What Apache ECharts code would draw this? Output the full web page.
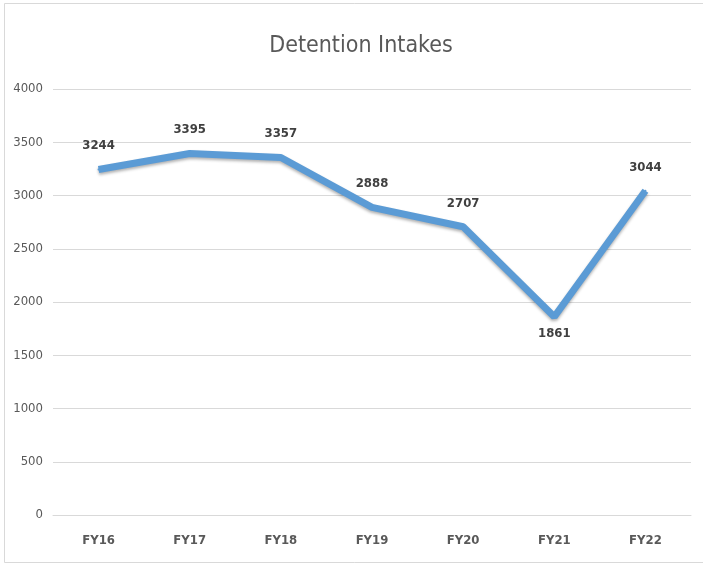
<!DOCTYPE html>
<html>
<head>
<meta charset="utf-8">
<script src="https://cdn.jsdelivr.net/npm/echarts@6/dist/echarts.min.js"></script>
<style>
html,body{margin:0;padding:0;background:#fff;}
#c{width:703px;height:564px;}
</style>
</head>
<body>
<div id="c"></div>
<script>
const categories = ['FY16','FY17','FY18','FY19','FY20','FY21','FY22'];
const intakes = [3244, 3395, 3357, 2888, 2707, 1861, 3044];
const yTicks = {min: 0, max: 4000, interval: 500};
const belowLabelIndex = 5;

const FONT = '"Liberation Sans Narrow", "DejaVu Sans Condensed", "Arial Narrow", sans-serif';

const chart = echarts.init(document.getElementById('c'), null, {renderer: 'canvas'});
const data = intakes.map((v, i) => i === belowLabelIndex
  ? {value: v, label: {position: 'bottom', distance: 9}}
  : {value: v});

chart.setOption({
  animation: false,
  backgroundColor: '#fff',
  title: {
    text: 'Detention Intakes',
    left: 356,
    top: 30,
    textAlign: 'center',
    textStyle: {fontFamily: FONT, fontSize: 23, fontWeight: 'normal', color: '#595959'}
  },
  graphic: [{
    type: 'rect',
    shape: {x: 4.5, y: 3.5, width: 720, height: 559},
    style: {fill: 'none', stroke: '#d9d9d9', lineWidth: 1},
    silent: true
  }],
  grid: {left: 53, right: 12, top: 89, bottom: 49},
  xAxis: {
    type: 'category',
    data: categories,
    boundaryGap: true,
    axisLine: {show: true, lineStyle: {color: '#d9d9d9', width: 1}},
    axisTick: {show: false},
    axisLabel: {margin: 19, fontFamily: FONT, fontSize: 13, fontWeight: 'bold', color: '#595959'}
  },
  yAxis: {
    type: 'value',
    min: yTicks.min,
    max: yTicks.max,
    interval: yTicks.interval,
    axisLine: {show: false},
    axisTick: {show: false},
    axisLabel: {margin: 10, fontFamily: FONT, fontSize: 13, color: '#595959', formatter: v => String(v)},
    splitLine: {lineStyle: {color: '#d9d9d9', width: 1}}
  },
  series: [{
    type: 'line',
    data: data,
    symbol: 'circle',
    symbolSize: 2,
    showSymbol: true,
    itemStyle: {color: '#5B9BD5'},
    lineStyle: {color: '#5B9BD5', width: 7, shadowColor: 'rgba(0,0,0,0.3)', shadowBlur: 3, shadowOffsetY: 2},
    label: {
      show: true,
      position: 'top',
      distance: 16,
      fontFamily: FONT,
      fontSize: 13,
      fontWeight: 'bold',
      color: '#404040'
    }
  }]
});
</script>
</body>
</html>
